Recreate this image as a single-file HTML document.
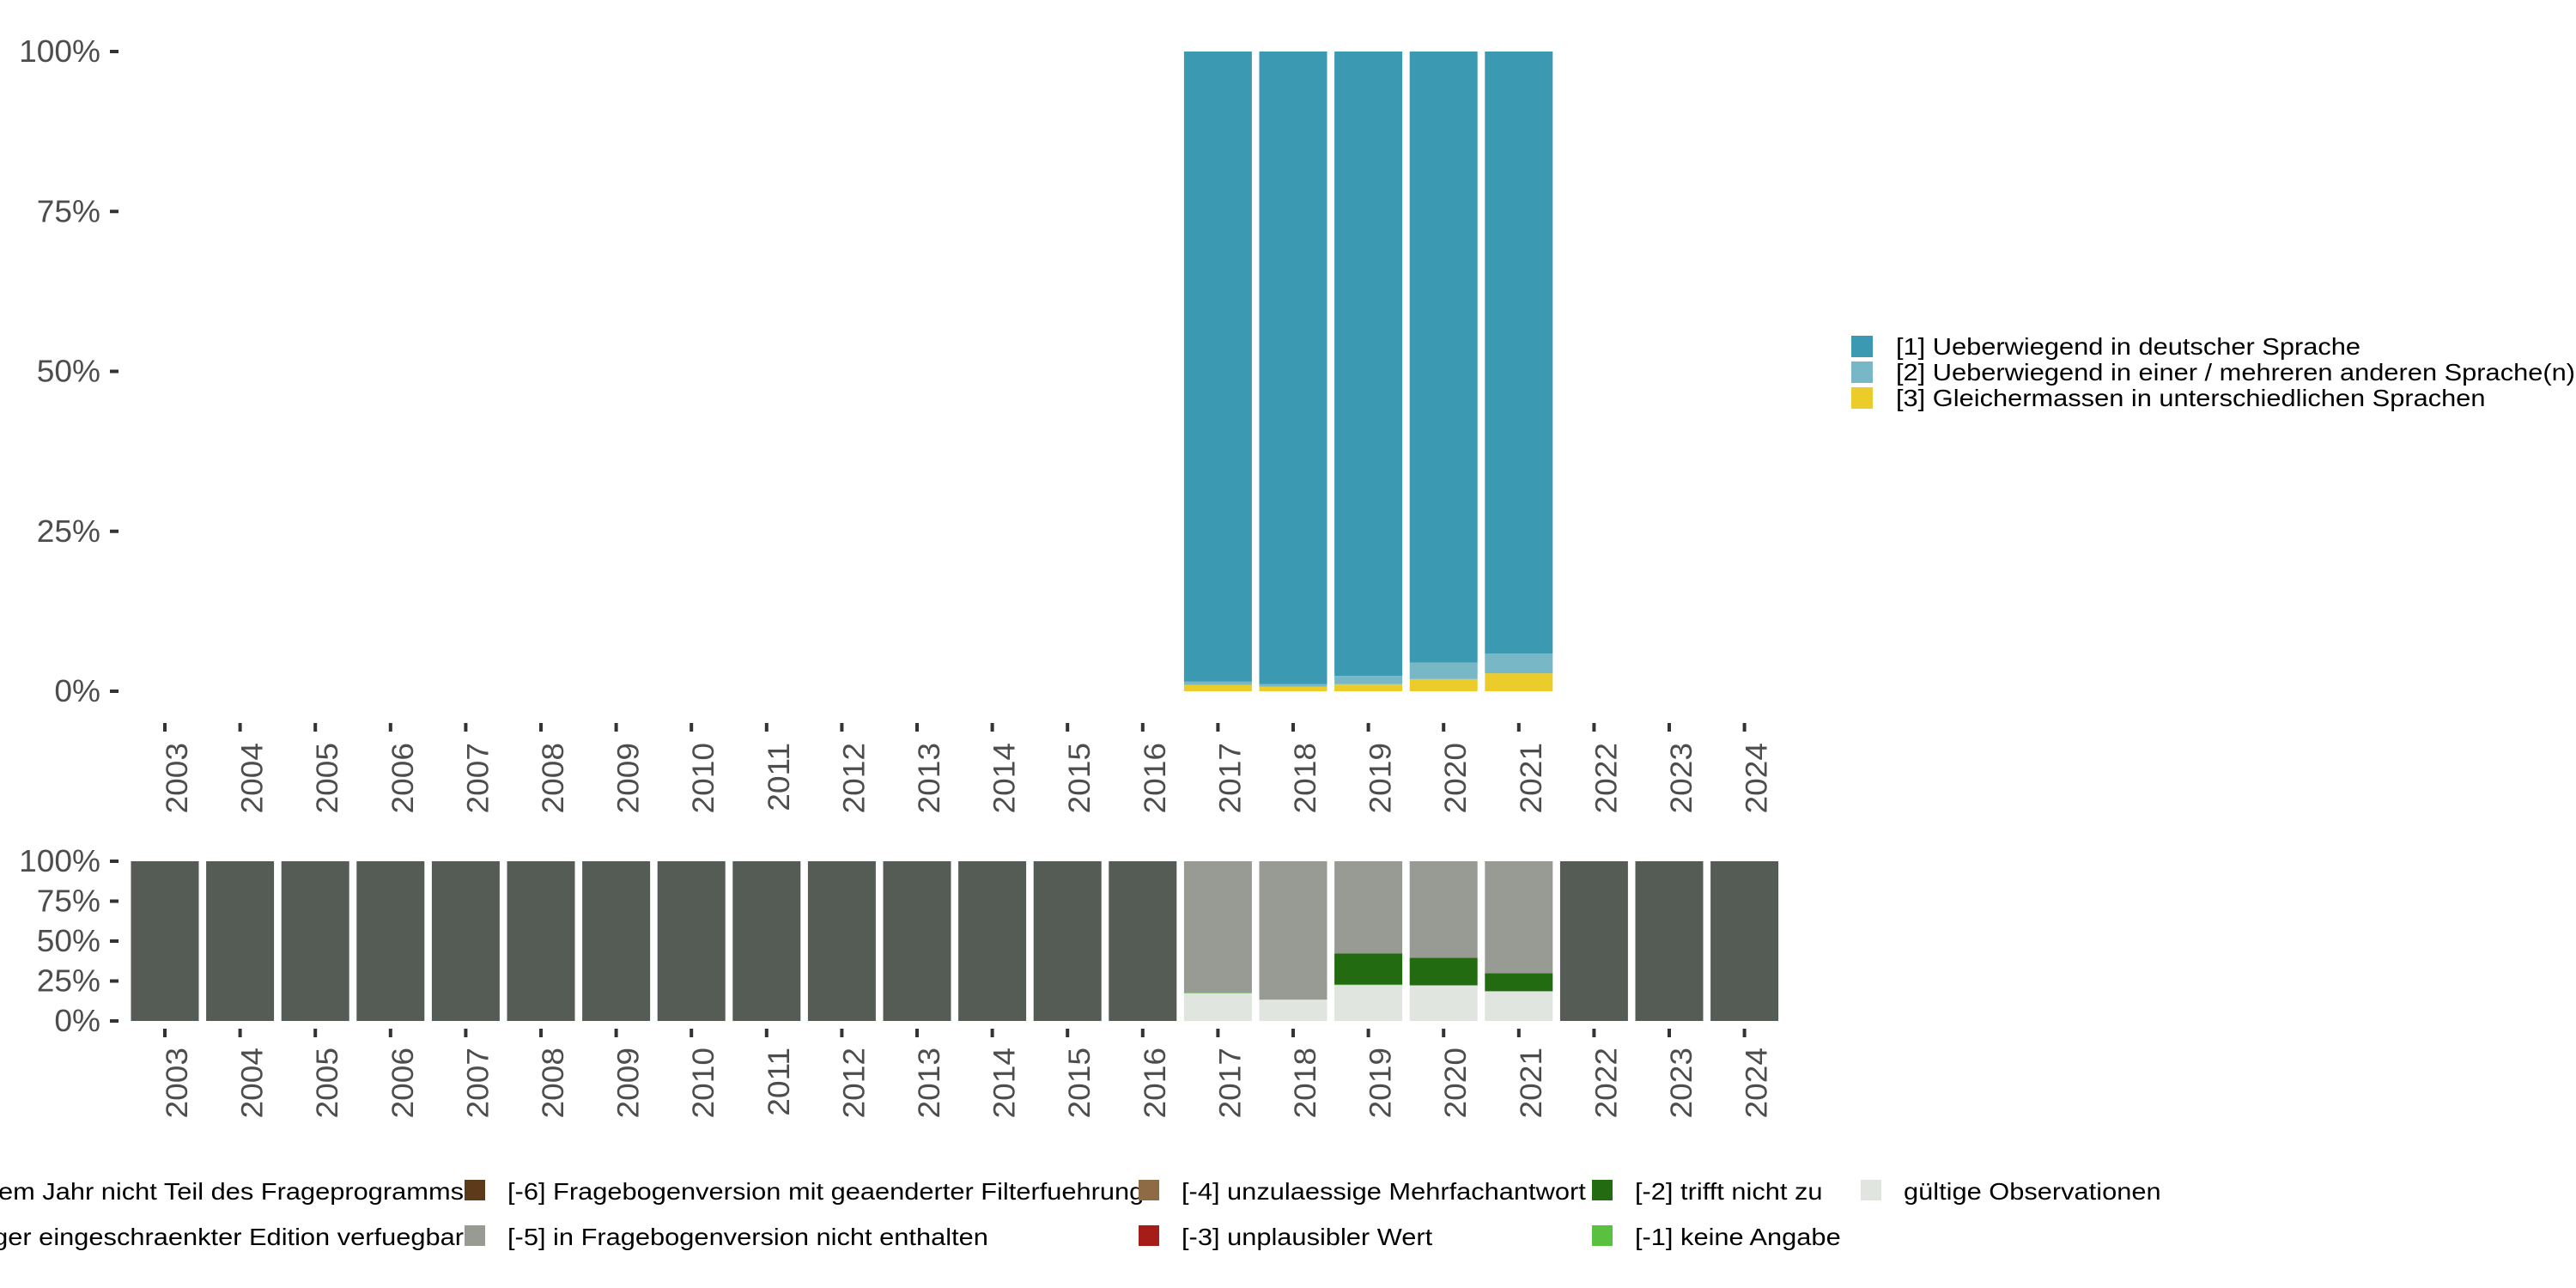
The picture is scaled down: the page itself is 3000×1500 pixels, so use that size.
<!DOCTYPE html>
<html><head><meta charset="utf-8"><style>
html,body{margin:0;padding:0;background:#fff;}
svg{display:block;}
text{font-family:"Liberation Sans",sans-serif;}
</style></head><body>
<svg id="chart" xmlns="http://www.w3.org/2000/svg" width="3000" height="1500" viewBox="0 0 3000 1500">
<g id="topg"></g>
<g id="botg"></g>
<g id="legR"></g>
<g id="legB"></g>
</svg>
<script>
const years = ["2003","2004","2005","2006","2007","2008","2009","2010","2011","2012","2013","2014","2015","2016","2017","2018","2019","2020","2021","2022","2023","2024"];
const yTicks = [0,25,50,75,100];
const yTickLabels = ["0%","25%","50%","75%","100%"];
const topYears = ["2017","2018","2019","2020","2021"];
const s3 = [1.0,0.7,1.1,1.9,2.8];
const s2 = [0.5,0.4,1.3,2.6,3.1];
const s1 = [98.5,98.9,97.6,95.5,94.1];
const topNames = ["[1] Ueberwiegend in deutscher Sprache","[2] Ueberwiegend in einer / mehreren anderen Sprache(n)","[3] Gleichermassen in unterschiedlichen Sprachen"];
const topColors = ["#3B9AB2","#78B7C5","#EBCC2A"];
const valid = [0,0,0,0,0,0,0,0,0,0,0,0,0,0,17.3,13.3,22.5,22.3,18.6,0,0,0];
const m1 = [0,0,0,0,0,0,0,0,0,0,0,0,0,0,0.3,0,0.3,0,0,0,0,0];
const m2 = [0,0,0,0,0,0,0,0,0,0,0,0,0,0,0,0,19.4,17.2,11.3,0,0,0];
const m5 = [0,0,0,0,0,0,0,0,0,0,0,0,0,0,82.4,86.7,57.8,60.5,70.1,0,0,0];
const m8 = [100,100,100,100,100,100,100,100,100,100,100,100,100,100,0,0,0,0,0,100,100,100];

const NS="http://www.w3.org/2000/svg";
function mk(tag,attrs,parent){const e=document.createElementNS(NS,tag);for(const k in attrs)e.setAttribute(k,attrs[k]);parent.appendChild(e);return e;}
function stretch(t,f){const l=t.getComputedTextLength();if(l>0){t.setAttribute('textLength',(l*f).toFixed(1));t.setAttribute('lengthAdjust','spacingAndGlyphs');}}
const step=87.6, x0=192, bw=79;
function xc(i){return x0+i*step;}
const topY=v=>805-v/100*745;
const botY=v=>1189-v/100*186;

function axes(g,yf,tickTop,labTop,name){
  yTicks.forEach((t,i)=>{
    const tk=mk('rect',{x:128,y:yf(t)-2,width:10,height:4,fill:'#333'},g);
    
    
    const tx=mk('text',{x:117,y:yf(t)+12,'text-anchor':'end','font-size':36,fill:'#4d4d4d'},g);
    tx.textContent=yTickLabels[i];
    
    
    stretch(tx,1.03);
  });
  years.forEach((y,i)=>{
    const tk=mk('rect',{x:xc(i)-2,y:tickTop,width:4,height:10,fill:'#333'},g);
    
    
    const tx=mk('text',{x:0,y:0,'text-anchor':'end','font-size':35,fill:'#4d4d4d',transform:`translate(${xc(i)+26},${labTop}) rotate(-90)`},g);
    tx.textContent=y;
    
    
    stretch(tx,1.06);
  });
}
const gTop=document.getElementById('topg');
topYears.forEach((yr,j)=>{
  const i=years.indexOf(yr);
  let acc=0;
  [[s3,2],[s2,1],[s1,0]].forEach(([arr,c])=>{
    const v=arr[j];
    const r=mk('rect',{x:xc(i)-bw/2,y:topY(acc+v),width:bw,height:topY(acc)-topY(acc+v),fill:topColors[c]},gTop);
    
    
    acc+=v;
  });
});
axes(gTop,topY,842,865,'top');

const gBot=document.getElementById('botg');
const botSeries=[[valid,'#E1E5E0','valid'],[m1,'#5BBF3F','m1'],[m2,'#226B11','m2'],[m5,'#989B94','m5'],[m8,'#555B55','m8']];
years.forEach((yr,i)=>{
  let acc=0;
  botSeries.forEach(([arr,col,nm])=>{
    const v=arr[i]; if(!v) return;
    const r=mk('rect',{x:xc(i)-bw/2,y:botY(acc+v),width:bw,height:botY(acc)-botY(acc+v),fill:col},gBot);
    
    
    acc+=v;
  });
});
axes(gBot,botY,1198,1220,'bottom');

const legR=document.getElementById('legR');
topNames.forEach((n,i)=>{
  const r=mk('rect',{x:2156,y:391+i*30,width:25,height:25,fill:topColors[i]},legR);
  
  
  const t=mk('text',{x:2208,y:413+i*30,'font-size':28,fill:'#000'},legR);
  t.textContent=n;
  
  
  stretch(t,1.1);
});
const legB=document.getElementById('legB');
const bItems=[
 [-25,0,'#555B55','[-8] Item in diesem Jahr nicht Teil des Frageprogramms',true],
 [-25,1,'#989B94','[-7] Nur in weniger eingeschraenkter Edition verfuegbar',true],
 [541,0,'#5D3A1A','[-6] Fragebogenversion mit geaenderter Filterfuehrung',false],
 [541,1,'#989B94','[-5] in Fragebogenversion nicht enthalten',false],
 [1326,0,'#8F6B45','[-4] unzulaessige Mehrfachantwort',false],
 [1326,1,'#A51D16','[-3] unplausibler Wert',false],
 [1854,0,'#226B11','[-2] trifft nicht zu',false],
 [1854,1,'#5BBF3F','[-1] keine Angabe',false],
 [2167,0,'#E1E5E0','gültige Observationen',false]
];
bItems.forEach(([x,row,col,lab,first])=>{
  const y=1374+row*53;
  const r=mk('rect',{x:first?-100:x,y:y,width:24,height:24,fill:col},legB);
  
  
  let t;
  if(first){
    t=mk('text',{x:540,y:y+23,'font-size':28,fill:'#000','text-anchor':'end'},legB);
  } else {
    t=mk('text',{x:x+50,y:y+23,'font-size':28,fill:'#000'},legB);
  }
  t.textContent=lab;
  
  
  stretch(t,1.1);
});
</script>
</body></html>
